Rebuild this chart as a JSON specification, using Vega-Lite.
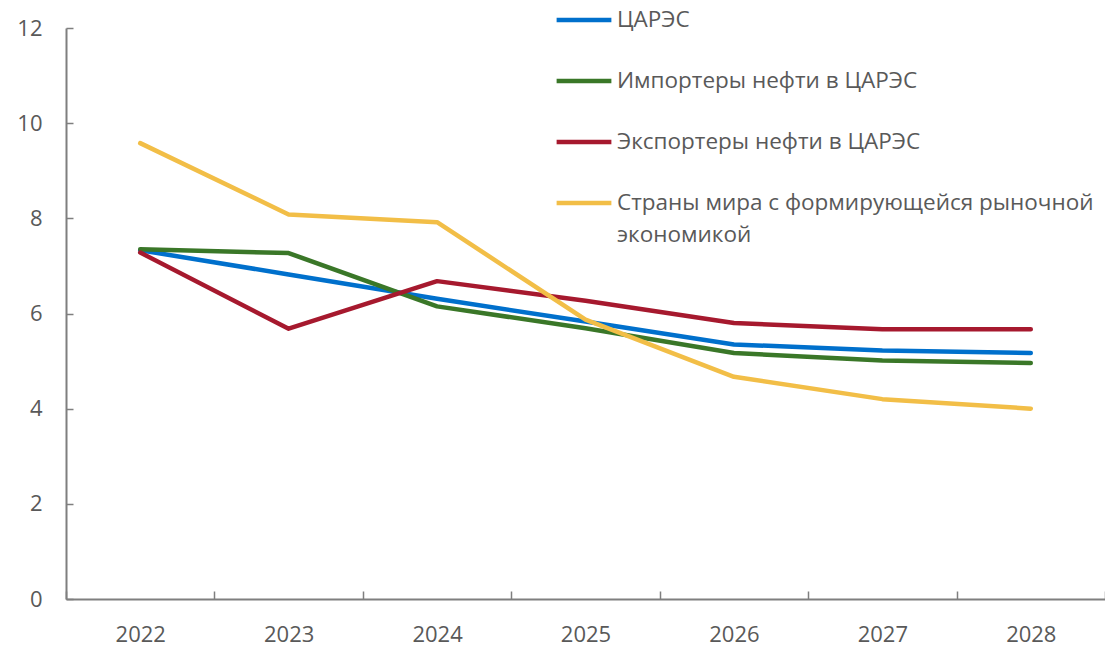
{
  "$schema": "https://vega.github.io/schema/vega-lite/v6.json",
  "width": 1039,
  "height": 571,
  "autosize": "none",
  "padding": {"left": 66, "top": 28, "right": 0, "bottom": 47},
  "background": "white",
  "config": {
    "view": {"stroke": null},
    "font": "Open Sans"
  },
  "data": {
    "values": [
      {"year": "2022", "series": "ЦАРЭС", "value": 7.33},
      {"year": "2023", "series": "ЦАРЭС", "value": 6.82},
      {"year": "2024", "series": "ЦАРЭС", "value": 6.31},
      {"year": "2025", "series": "ЦАРЭС", "value": 5.83},
      {"year": "2026", "series": "ЦАРЭС", "value": 5.35},
      {"year": "2027", "series": "ЦАРЭС", "value": 5.22},
      {"year": "2028", "series": "ЦАРЭС", "value": 5.17},
      {"year": "2022", "series": "Импортеры нефти в ЦАРЭС", "value": 7.35},
      {"year": "2023", "series": "Импортеры нефти в ЦАРЭС", "value": 7.27},
      {"year": "2024", "series": "Импортеры нефти в ЦАРЭС", "value": 6.15},
      {"year": "2025", "series": "Импортеры нефти в ЦАРЭС", "value": 5.69},
      {"year": "2026", "series": "Импортеры нефти в ЦАРЭС", "value": 5.17},
      {"year": "2027", "series": "Импортеры нефти в ЦАРЭС", "value": 5.01},
      {"year": "2028", "series": "Импортеры нефти в ЦАРЭС", "value": 4.96},
      {"year": "2022", "series": "Экспортеры нефти в ЦАРЭС", "value": 7.28},
      {"year": "2023", "series": "Экспортеры нефти в ЦАРЭС", "value": 5.68},
      {"year": "2024", "series": "Экспортеры нефти в ЦАРЭС", "value": 6.68},
      {"year": "2025", "series": "Экспортеры нефти в ЦАРЭС", "value": 6.27},
      {"year": "2026", "series": "Экспортеры нефти в ЦАРЭС", "value": 5.80},
      {"year": "2027", "series": "Экспортеры нефти в ЦАРЭС", "value": 5.67},
      {"year": "2028", "series": "Экспортеры нефти в ЦАРЭС", "value": 5.67},
      {"year": "2022", "series": "Страны мира с формирующейся рыночной экономикой", "value": 9.58},
      {"year": "2023", "series": "Страны мира с формирующейся рыночной экономикой", "value": 8.08},
      {"year": "2024", "series": "Страны мира с формирующейся рыночной экономикой", "value": 7.92},
      {"year": "2025", "series": "Страны мира с формирующейся рыночной экономикой", "value": 5.87},
      {"year": "2026", "series": "Страны мира с формирующейся рыночной экономикой", "value": 4.67},
      {"year": "2027", "series": "Страны мира с формирующейся рыночной экономикой", "value": 4.20},
      {"year": "2028", "series": "Страны мира с формирующейся рыночной экономикой", "value": 4.00}
    ]
  },
  "mark": {"type": "line", "strokeWidth": 4.5, "strokeCap": "round", "strokeJoin": "round"},
  "encoding": {
    "x": {
      "field": "year",
      "type": "ordinal",
      "scale": {"type": "band", "paddingInner": 0, "paddingOuter": 0},
      "axis": {
        "title": null,
        "labelAngle": 0,
        "labelFontSize": 22,
        "labelColor": "#595959",
        "labelPadding": 33,
        "tickBand": "extent",
        "tickSize": -8,
        "tickColor": "#7f7f7f",
        "tickWidth": 1.5,
        "domainColor": "#7f7f7f",
        "domainWidth": 2,
        "grid": false
      }
    },
    "y": {
      "field": "value",
      "type": "quantitative",
      "scale": {"domain": [0, 12], "nice": false},
      "axis": {
        "title": null,
        "values": [0, 2, 4, 6, 8, 10, 12],
        "labelFontSize": 22,
        "labelColor": "#595959",
        "labelPadding": 31,
        "tickSize": -7,
        "tickColor": "#7f7f7f",
        "tickWidth": 1.5,
        "domainColor": "#7f7f7f",
        "domainWidth": 2,
        "grid": false
      }
    },
    "color": {
      "field": "series",
      "type": "nominal",
      "sort": ["ЦАРЭС", "Импортеры нефти в ЦАРЭС", "Экспортеры нефти в ЦАРЭС", "Страны мира с формирующейся рыночной экономикой"],
      "scale": {
        "domain": ["ЦАРЭС", "Импортеры нефти в ЦАРЭС", "Экспортеры нефти в ЦАРЭС", "Страны мира с формирующейся рыночной экономикой"],
        "range": ["#0070cc", "#3a7728", "#a6192e", "#f2be47"]
      },
      "legend": {
        "title": null,
        "orient": "none",
        "legendX": 488,
        "legendY": -38,
        "symbolType": "stroke",
        "symbolSize": 3000,
        "symbolStrokeWidth": 4.5,
        "labelFontSize": 22.5,
        "labelColor": "#595959",
        "labelOffset": 3,
        "labelLimit": 600,
        "rowPadding": 19,
        "labelExpr": "datum.label == 'Страны мира с формирующейся рыночной экономикой' ? ['Страны мира с формирующейся рыночной', 'экономикой'] : datum.label",
        "encode": {"labels": {"update": {"lineHeight": {"value": 32}}}}
      }
    }
  }
}
